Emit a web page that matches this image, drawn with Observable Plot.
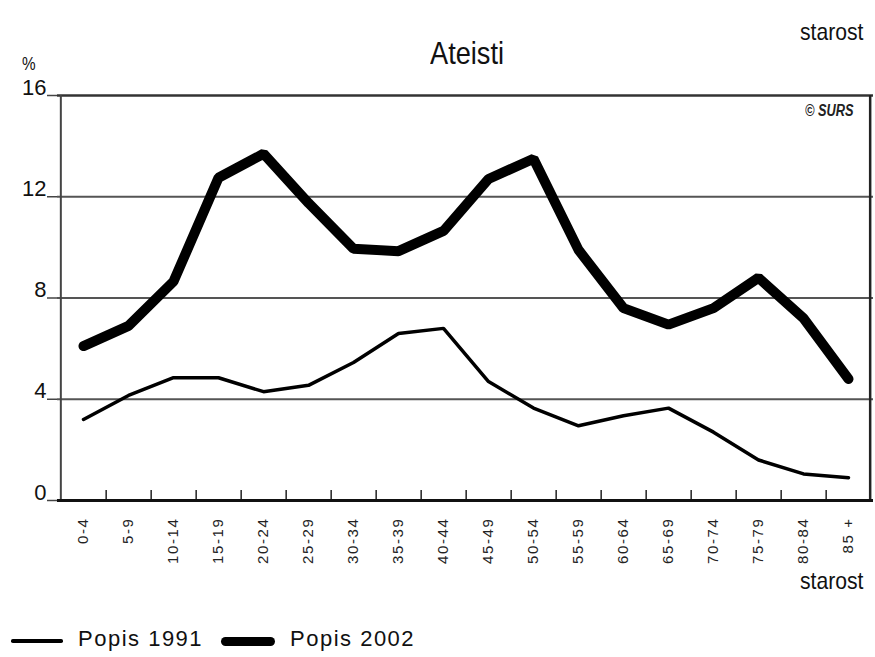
<!DOCTYPE html>
<html>
<head>
<meta charset="utf-8">
<script src="https://cdn.jsdelivr.net/npm/d3@7"></script>
<script src="https://cdn.jsdelivr.net/npm/@observablehq/plot@0.6"></script>
<style>
  html, body { margin: 0; padding: 0; background: #fff; }
  #wrap { position: relative; width: 875px; height: 657px; overflow: hidden; font-family: "Liberation Sans", Arial, sans-serif; color: #111; }
  .abs { position: absolute; white-space: nowrap; line-height: 1; }
  .narrow { font-family: "Liberation Sans", Arial, sans-serif; transform-origin: left top; }
  #chart { position: absolute; left: 0; top: 0; }
  .lg { position: absolute; }
  #chart g[aria-label="x-axis tick label"] text { letter-spacing: 1.6px; }
</style>
</head>
<body>
<div id="wrap">
  <div id="chart"></div>
  <div class="abs narrow" style="left:430px;top:37px;font-size:32px;transform:scaleX(0.85);">Ateisti</div>
  <div class="abs narrow" style="left:800px;top:20px;font-size:24px;transform:scaleX(0.88);">starost</div>
  <div class="abs narrow" style="left:800px;top:569px;font-size:24px;transform:scaleX(0.88);">starost</div>
  <div class="abs narrow" style="left:22px;top:55px;font-size:18px;transform:scaleX(0.85);">%</div>
  <div class="abs narrow" style="left:805px;top:103px;font-size:16px;font-style:italic;font-weight:bold;color:#222;transform:scaleX(0.8);">© SURS</div>
  <div id="legend"></div>
</div>
<script>
const ages = ["0-4","5-9","10-14","15-19","20-24","25-29","30-34","35-39","40-44","45-49","50-54","55-59","60-64","65-69","70-74","75-79","80-84","85 +"];
const popis1991 = [3.2,4.15,4.85,4.85,4.3,4.55,5.45,6.6,6.8,4.7,3.65,2.95,3.35,3.65,2.7,1.6,1.05,0.9];
const popis2002 = [6.1,6.9,8.65,12.75,13.7,11.75,9.95,9.85,10.65,12.7,13.5,9.9,7.6,6.95,7.6,8.8,7.2,4.8];
const yTicks = [0,4,8,12,16];
const gridTicks = [4,8,12];
const seriesNames = ["Popis 1991","Popis 2002"];

const rows1991 = ages.map((a,i)=>({age:a, v:popis1991[i]}));
const rows2002 = ages.map((a,i)=>({age:a, v:popis2002[i]}));

const W = 875, ML = 57, MR = 2;
const step = (W - ML - MR) / ages.length;

const chart = Plot.plot({
  width: W,
  height: 600,
  marginTop: 95,
  marginBottom: 100,
  marginLeft: ML,
  marginRight: MR,
  x: {type: "point", domain: ages, padding: 0.5},
  y: {domain: [0,16]},
  style: {fontFamily: "'Liberation Sans',Arial,sans-serif", color: "#111", background: "white"},
  marks: [
    Plot.ruleY(gridTicks, {stroke: "#555", strokeWidth: 2}),
    Plot.ruleY([16], {stroke: "#333", strokeWidth: 2.5}),
    Plot.ruleX([ages[0]], {dx: -step/2, y1: 0, y2: 16, stroke: "#444", strokeWidth: 2}),
    Plot.ruleX([ages[ages.length-1]], {dx: step/2 - 1, y1: 0, y2: 16, stroke: "#222", strokeWidth: 2.5}),
    Plot.ruleX(ages.slice(0,-1), {dx: step/2, y1: 0, y2: 0.4, stroke: "#222", strokeWidth: 1.5}),
    Plot.ruleY([0], {stroke: "#111", strokeWidth: 3}),
    Plot.axisY({ticks: yTicks, tickSize: 10, tickFormat: () => "", stroke: "#444", strokeWidth: 1.5, label: null}),
    Plot.text(yTicks, {y: d => d, text: d => String(d), frameAnchor: "left", textAnchor: "end", dx: -11, dy: -8, fontSize: 22, fill: "#111"}),
    Plot.axisX({tickSize: 0, tickPadding: 17, tickRotate: -90, fontSize: 15, label: null, fill: "#222"}),
    Plot.line(rows1991, {x: "age", y: "v", stroke: "#000", strokeWidth: 3.5, strokeLinejoin: "miter"}),
    Plot.line(rows2002, {x: "age", y: "v", stroke: "#000", strokeWidth: 10, strokeLinejoin: "miter", strokeLinecap: "round"})
  ]
});
document.getElementById("chart").appendChild(chart);

// legend
const lg = document.getElementById("legend");
const items = [
  {name: seriesNames[0], x: 11, w: 52, sw: 3.5, tx: 78},
  {name: seriesNames[1], x: 221, w: 54, sw: 9, tx: 290}
];
items.forEach(it => {
  const l = document.createElement("div");
  l.className = "lg";
  l.style.cssText = `left:${it.x}px;top:${641 - it.sw/2}px;width:${it.w}px;height:${it.sw}px;background:#000;border-radius:${it.sw/2}px;`;
  lg.appendChild(l);
  const t = document.createElement("div");
  t.className = "abs";
  t.style.cssText = `left:${it.tx}px;top:628px;font-size:22px;letter-spacing:1.5px;`;
  t.textContent = it.name;
  lg.appendChild(t);
});
</script>
</body>
</html>
